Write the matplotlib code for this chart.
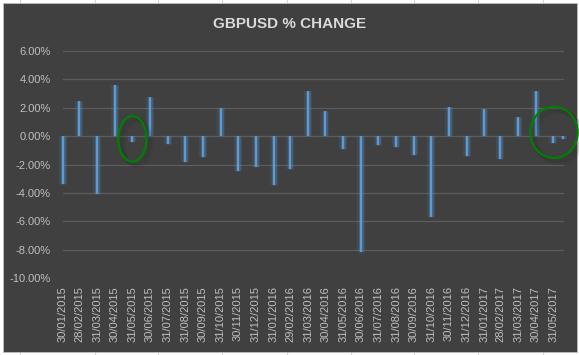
import pandas as pd
import matplotlib
matplotlib.use("Agg")
import matplotlib.pyplot as plt
import matplotlib.dates as mdates
from matplotlib.patches import Ellipse

# month-end dates shown on the axis, plus a partial June 2017 point
month_labels = ["30/01/2015", "28/02/2015", "31/03/2015", "30/04/2015", "31/05/2015",
                "30/06/2015", "31/07/2015", "31/08/2015", "30/09/2015", "31/10/2015",
                "30/11/2015", "31/12/2015", "31/01/2016", "29/02/2016", "31/03/2016",
                "30/04/2016", "31/05/2016", "30/06/2016", "31/07/2016", "31/08/2016",
                "30/09/2016", "31/10/2016", "30/11/2016", "31/12/2016", "31/01/2017",
                "28/02/2017", "31/03/2017", "30/04/2017", "31/05/2017"]
extra_date = "16/06/2017"

pct_change = [-3.36, 2.49, -4.06, 3.61, -0.42, 2.75, -0.56, -1.79, -1.43, 1.97,
              -2.42, -2.14, -3.41, -2.33, 3.17, 1.78, -0.92, -8.12, -0.64, -0.73,
              -1.29, -5.66, 2.09, -1.39, 1.92, -1.62, 1.34, 3.19, -0.49, -0.19]

y_ticks = [6, 4, 2, 0, -2, -4, -6, -8, -10]

dates = pd.to_datetime(month_labels + [extra_date], format="%d/%m/%Y")
tick_dates = dates[:-1]

BG = "#404040"
GRID = "#5c5c5c"
TXT = "#bfbfbf"
BLUE = "#5b9bd5"

plt.rcParams["font.family"] = ["Liberation Sans", "DejaVu Sans"]

fig = plt.figure(figsize=(5.79, 3.55), dpi=100, facecolor="white")

# spreadsheet cells peeking out behind the chart
for xp in [20, 95, 158, 222, 287, 351, 414, 478, 543]:
    fig.add_artist(plt.Line2D([xp / 579, xp / 579], [0.985, 1.0], color="#d4d4d4", lw=0.8, zorder=-20))
    fig.add_artist(plt.Line2D([xp / 579, xp / 579], [0.0, 0.012], color="#d4d4d4", lw=0.8, zorder=-20))

# chart area
fig.add_artist(plt.Rectangle((3 / 579, 3 / 355), 574 / 579, 349 / 355,
                             facecolor=BG, edgecolor="#bfbfbf", lw=0.6, zorder=-10))

ax = fig.add_axes([62.7 / 579, 1 - 278.3 / 355, (562.7 - 62.7) / 579, (278.3 - 51) / 355])
ax.set_facecolor("none")

ax.set_ylim(-10, 6)
ax.set_xlim(dates[0], dates[-1])
ax.set_yticks(y_ticks)
ax.set_yticklabels([f"{v:.2f}%" for v in y_ticks])

for v in y_ticks:
    if v != -10:
        ax.axhline(v, color=GRID, lw=0.9, zorder=1, clip_on=False)

x = mdates.date2num(dates)
# glow first, then the bar itself
ax.vlines(x, 0, pct_change, color=BLUE, lw=6, alpha=0.12, zorder=2, clip_on=False)
ax.vlines(x, 0, pct_change, color=BLUE, lw=3.5, alpha=0.25, zorder=2, clip_on=False)
ax.vlines(x, 0, pct_change, color=BLUE, lw=1.6, zorder=3, clip_on=False)

ax.set_xticks(mdates.date2num(tick_dates))
ax.set_xticklabels(month_labels, rotation=90)

ax.tick_params(axis="both", length=0, colors=TXT, labelsize=8)
ax.tick_params(axis="x", pad=5.5)
ax.tick_params(axis="y", pad=8.5)
for s in ax.spines.values():
    s.set_visible(False)

fig.text(0.5, 1 - 24 / 355, "GBPUSD % CHANGE", ha="center", va="center",
         color="#d9d9d9", fontsize=11, fontweight="bold")

# green highlight circles (with a soft drop shadow)
circles = [(x[4], -0.19, 49, 3.2), (x[28] + 1, 0.27, 82, 3.6)]
for cx, cy, w, h in circles:
    for k, a in [(3, 0.10), (2, 0.12), (1, 0.14)]:
        ax.add_patch(Ellipse((cx + 3 * k, cy - 0.12 * k), w, h, fill=False,
                             edgecolor="#2a2a2a", lw=3, alpha=a, zorder=4, clip_on=False))
    ax.add_patch(Ellipse((cx, cy), w, h, fill=False, edgecolor="#008000",
                         lw=1.6, zorder=5, clip_on=False))

fig.savefig("out.png", dpi=100, facecolor="white")
